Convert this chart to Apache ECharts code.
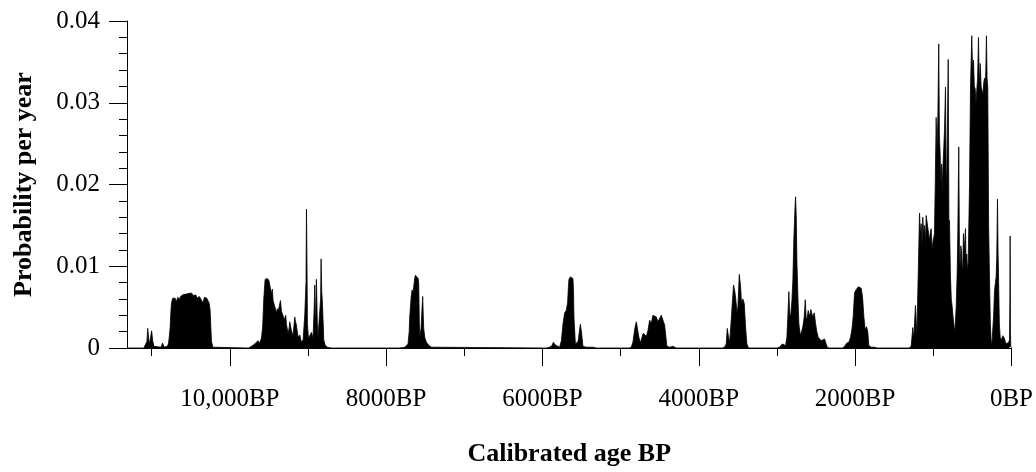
<!DOCTYPE html>
<html><head><meta charset="utf-8">
<script src="https://cdn.jsdelivr.net/npm/echarts@6/dist/echarts.min.js"></script>
<style>html,body{margin:0;padding:0;background:#fff}#c{width:1036px;height:472px}</style>
</head><body><div id="c"></div>
<script>
// Calibrated age (years BP) and summed probability per year
const ageBP = [
11300,11100,11087,11060,11050,11045,11038,11028,11018,11000,10994,10985,10970,10955,10880,10860,10850,10840,10800,10785,
10776,10763,10755,10746,10730,10712,10700,10682,10665,10648,10630,10618,10600,10575,10555,10533,10515,10499,10485,10469,
10450,10435,10420,10406,10390,10371,10355,10341,10325,10311,10295,10278,10265,10252,10240,10234,10217,10200,
9760,9722,9702,9680,9659,9640,9616,9595,9580,9565,9548,9540,9518,9498,9488,9467,9456,9446,9425,9403,9392,9382,9365,9352,
9339,9318,9297,9285,9275,9254,9240,9233,9211,9190,9169,9160,9148,9126,9105,9083,9062,9041,9025,9019,9012,9007,8994,8977,
8955,8935,8920,8913,8905,8898,8892,8880,8871,8849,8838,8832,8824,8815,8805,8798,8781,8755,8730,8700,
7830,7760,7720,7705,7698,7680,7668,7655,7647,7635,7625,7605,7590,7583,7575,7570,7560,7553,7540,7532,7525,7519,7506,7485,7451,7421,7400,
5950,5908,5878,5860,5853,5840,5831,5780,5768,5758,5737,5716,5695,5678,5668,5661,5643,5627,5610,5603,5597,5579,5559,5545,5537,5525,5515,5499,5482,5439,5354,5311,
4900,4863,4843,4821,4810,4799,4783,4766,4748,4727,4710,4689,4671,4651,4629,4608,4587,4565,4544,4523,4501,4480,4459,4437,4425,4408,4373,4331,4288,
3700,3670,3649,3636,3619,3606,3585,3572,3555,3542,3529,3512,3500,3482,3465,3453,3436,3418,3402,3385,3363,
3000,2967,2932,2916,2890,2873,2860,2848,2835,2822,2809,2797,2784,2771,2762,2753,2745,2733,2720,2702,2685,2669,2651,2638,2625,2612,
2600,2583,2566,2554,2541,2523,2506,2490,2472,2455,2434,2413,2391,2370,2357,2330,
2160,2127,2106,2080,2059,2042,2025,2008,1991,1973,1957,1940,1922,1905,1888,1871,1854,1838,1825,1794,1752,1720,
1310,1283,1262,1250,1240,1228,1210,1198,1176,1165,1155,1145,1134,1125,1113,1100,1091,1070,1060,1049,1040,1027,1015,1006,995,985,
975,963,955,942,930,922,912,905,895,887,879,868,857,844,835,827,818,809,800,793,780,770,758,742,725,707,695,687,674,665,656,648,
639,630,623,614,605,588,580,572,562,554,537,524,508,497,486,475,464,455,444,433,422,411,400,388,375,365,354,345,336,328,320,312,
303,292,281,270,260,250,239,228,217,205,196,188,179,172,166,155,144,130,119,110,102,92,81,70,60,45,35,25,20,17,13,9,0
];
const probability = [
0,0,0.0002,0.0008,0.0024,0.0026,0.0012,0.0005,0.0010,0.0021,0.0020,0.0008,0.0002,0,0.0001,0.0006,0.0004,0.0001,0.0002,0.0005,
0.0012,0.0025,0.0042,0.0055,0.0061,0.0059,0.0061,0.0057,0.0062,0.0059,0.0063,0.0062,0.0065,0.0064,0.0066,0.0065,0.0067,0.0066,0.0067,0.0064,
0.0066,0.0065,0.0061,0.0062,0.0063,0.0060,0.0058,0.0055,0.0062,0.0064,0.0061,0.0063,0.0055,0.0047,0.0020,0.0008,0.0001,0,
0,0.0002,0.0004,0.0005,0.0004,0.0009,0.0006,0.0012,0.0025,0.0060,0.0084,0.0086,0.0085,0.0082,0.0080,0.0066,0.0072,0.0058,0.0051,0.0043,0.0048,0.0045,0.0052,0.0058,
0.0045,0.0039,0.0035,0.0040,0.0029,0.0017,0.0025,0.0032,0.0021,0.0015,0.0038,0.0033,0.0028,0.0013,0.0016,0.0007,0.0010,0.0040,0.0080,0.0170,0.0100,0.0030,0.0012,0.0011,
0.0019,0.0012,0.0050,0.0077,0.0020,0.0060,0.0084,0.0030,0.0013,0.0013,0.0060,0.0109,0.0070,0.0055,0.0030,0.0010,0.0004,0.0001,0.0003,0,
0,0.0001,0.0005,0.0020,0.0038,0.0062,0.0071,0.0068,0.0066,0.0085,0.0089,0.0088,0.0085,0.0079,0.0030,0.0013,0.0020,0.0024,0.0050,0.0063,0.0040,0.0024,0.0013,0.0007,0.0003,0.0001,0,
0,0.0001,0.0003,0.0007,0.0009,0.0004,0.0002,0.0001,0.0003,0.0009,0.0030,0.0043,0.0046,0.0056,0.0075,0.0084,0.0087,0.0088,0.0085,0.0070,0.0038,0.0005,0.0003,0.0008,0.0013,0.0022,0.0029,0.0018,0.0002,0.0001,0.0001,0,
0,0.0001,0.0007,0.0022,0.0028,0.0032,0.0033,0.0013,0.0006,0.0013,0.0018,0.0020,0.0014,0.0021,0.0034,0.0030,0.0040,0.0041,0.0038,0.0032,0.0034,0.0040,0.0041,0.0028,0.0026,0.0002,0.0001,0.0002,0,
0,0.0001,0.0005,0.0024,0.0013,0.0007,0.0034,0.0054,0.0077,0.0071,0.0062,0.0044,0.0050,0.0090,0.0075,0.0054,0.0060,0.0054,0.0026,0.0005,0,
0,0.0001,0.0005,0.0007,0.0003,0.0013,0.0040,0.0069,0.0038,0.0042,0.0058,0.0081,0.0132,0.0168,0.0185,0.0160,0.0107,0.0066,0.0030,0.0016,0.0020,0.0026,0.0038,0.0059,0.0034,0.0038,
0.0046,0.0038,0.0047,0.0042,0.0038,0.0043,0.0030,0.0020,0.0013,0.0011,0.0009,0.0010,0.0011,0.0010,0.0001,0,
0,0.0003,0.0006,0.0007,0.0013,0.0022,0.0038,0.0067,0.0071,0.0073,0.0075,0.0074,0.0073,0.0062,0.0038,0.0022,0.0026,0.0020,0.0003,0.0001,0.0001,0,
0,0.0002,0.0025,0.0010,0.0030,0.0052,0.0015,0.0017,0.0165,0.0140,0.0152,0.0125,0.0160,0.0140,0.0150,0.0130,0.0162,0.0164,0.0140,0.0131,0.0140,0.0146,0.0120,0.0129,0.0135,0.0140,
0.0200,0.0282,0.0240,0.0278,0.0372,0.0260,0.0237,0.0200,0.0225,0.0190,0.0217,0.0240,0.0266,0.0319,0.0200,0.0217,0.0280,0.0353,0.0150,0.0156,0.0087,0.0060,0.0050,0.0033,0.0019,0.0050,0.0090,0.0135,0.0246,0.0110,0.0099,0.0125,
0.0119,0.0095,0.0099,0.0140,0.0117,0.0146,0.0100,0.0115,0.0095,0.0103,0.0197,0.0319,0.0382,0.0340,0.0352,0.0320,0.0317,0.0300,0.0315,0.0330,0.0380,0.0320,0.0348,0.0320,0.0319,0.0310,0.0325,0.0330,0.0319,0.0340,0.0382,0.0330,
0.0319,0.0150,0.0087,0.0030,0.0009,0.0005,0.0003,0.0040,0.0070,0.0080,0.0087,0.0110,0.0182,0.0120,0.0091,0.0030,0.0013,0.0010,0.0009,0.0015,0.0017,0.0012,0.0011,0.0005,0.0003,0.0005,0.0007,0.0010,0.0060,0.0137,0.0020,0.0002,0
];
const majorTickAges = [0, 2000, 4000, 6000, 8000, 10000];
const xTickLabels = ['0BP', '2000BP', '4000BP', '6000BP', '8000BP', '10,000BP'];
const minorTickAges = [1000, 3000, 5000, 7000, 9000, 11000];
const yTickLabels = ['0', '0.01', '0.02', '0.03', '0.04'];

const FONT = '"Liberation Serif","Times New Roman",serif';
const chart = echarts.init(document.getElementById('c'), null, {renderer: 'canvas'});
const AGE_MAX = 11315;
chart.setOption({
  animation: false,
  backgroundColor: '#fff',
  grid: {left: 127, right: 23, top: 21, bottom: 124, containLabel: false},
  xAxis: [{
    type: 'value', min: 0, max: AGE_MAX, inverse: true, interval: 1000, position: 'bottom',
    axisLine: {show: true, onZero: false, lineStyle: {color: '#000', width: 1}},
    axisTick: {show: true, length: 18, customValues: majorTickAges, lineStyle: {color: '#000', width: 1}},
    axisLabel: {
      customValues: majorTickAges,
      formatter: v => { const i = majorTickAges.indexOf(Math.round(v)); return i >= 0 ? xTickLabels[i] : ''; },
      fontFamily: FONT, fontSize: 25, color: '#000', margin: 39
    },
    splitLine: {show: false},
    name: 'Calibrated age BP', nameLocation: 'middle', nameGap: 93,
    nameTextStyle: {fontFamily: FONT, fontWeight: 'bold', fontSize: 26, color: '#000'}
  }, {
    type: 'value', min: 0, max: AGE_MAX, inverse: true, interval: 1000, position: 'bottom', offset: 0,
    axisLine: {show: false, onZero: false},
    axisTick: {show: true, length: 8, customValues: minorTickAges, lineStyle: {color: '#000', width: 1}},
    axisLabel: {show: false},
    splitLine: {show: false}
  }],
  yAxis: {
    type: 'value', min: 0, max: 0.04, interval: 0.01, position: 'left',
    axisLine: {show: true, onZero: false, lineStyle: {color: '#000', width: 1}},
    axisTick: {show: true, length: 18, lineStyle: {color: '#000', width: 1}},
    minorTick: {show: true, splitNumber: 5, length: 8, lineStyle: {color: '#000', width: 1}},
    axisLabel: {
      formatter: v => yTickLabels[Math.round(v / 0.01)],
      fontFamily: FONT, fontSize: 25, color: '#000', margin: 27
    },
    splitLine: {show: false},
    name: 'Probability per year', nameLocation: 'middle', nameGap: 90,
    nameTextStyle: {fontFamily: FONT, fontWeight: 'bold', fontSize: 26, color: '#000'}
  },
  series: [{
    type: 'line', xAxisIndex: 0, yAxisIndex: 0,
    data: ageBP.map((a, i) => [a, probability[i]]),
    showSymbol: false, symbol: 'none', silent: true,
    lineStyle: {color: '#000', width: 0.8},
    itemStyle: {color: '#000'},
    areaStyle: {color: '#000', opacity: 1}
  }]
});
</script></body></html>
